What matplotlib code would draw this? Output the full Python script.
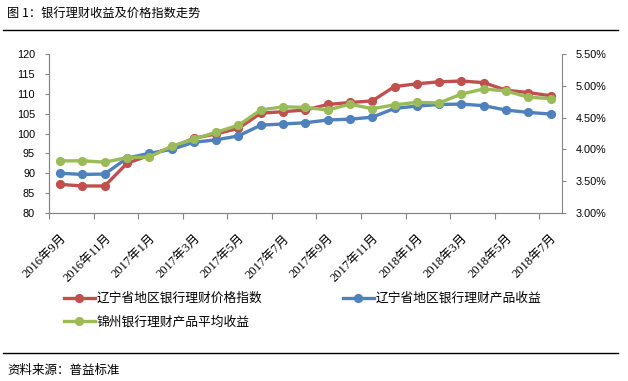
import numpy as np
import matplotlib
matplotlib.use('Agg')
import matplotlib.pyplot as plt
from matplotlib.lines import Line2D

plt.rcParams['font.family'] = ['Liberation Sans', 'Noto Sans CJK SC']

# Data (monthly, 2016-09 .. 2018-07)
tick_labels = ['2016年9月', '2016年11月', '2017年1月', '2017年3月', '2017年5月', '2017年7月',
               '2017年9月', '2017年11月', '2018年1月', '2018年3月', '2018年5月', '2018年7月']
price_index = [87.2, 86.8, 86.8, 92.5, 94.5, 96.5, 98.8, 99.9, 101.3, 105.1, 105.5, 105.9,
               107.3, 107.8, 108.2, 111.8, 112.5, 113.0, 113.2, 112.8, 110.9, 110.3, 109.5]
ln_yield = [90.0, 89.7, 89.8, 93.8, 95.0, 96.0, 97.8, 98.4, 99.4, 102.1, 102.4, 102.7,
            103.4, 103.6, 104.1, 106.3, 106.9, 107.3, 107.4, 107.0, 105.9, 105.3, 104.9]
jz_yield = [3.82, 3.82, 3.80, 3.87, 3.88, 4.05, 4.16, 4.27, 4.38, 4.62, 4.67, 4.66,
            4.62, 4.71, 4.64, 4.70, 4.74, 4.73, 4.87, 4.95, 4.92, 4.82, 4.80]
names = ['辽宁省地区银行理财价格指数', '辽宁省地区银行理财产品收益', '锦州银行理财产品平均收益']
colors = ['#C0504D', '#4F81BD', '#9BBB59']

x = np.arange(len(price_index))
cjk = ['Noto Sans CJK SC', 'DejaVu Sans']
axis_grey = '#868686'

fig = plt.figure(figsize=(6.28, 3.81), dpi=100)
ax = fig.add_axes([49 / 628, 1 - 213 / 381, (561.7 - 49) / 628, 159 / 381])
ax2 = ax.twinx()

style = dict(lw=2.4, marker='o', ms=5.6, solid_capstyle='round')
ax.plot(x, price_index, color=colors[0], **style)
ax.plot(x, ln_yield, color=colors[1], **style)
ax2.plot(x, jz_yield, color=colors[2], **style)

ax.set_xlim(-0.5, len(x) - 0.5)
ax.set_ylim(80, 120)
ax.set_yticks(np.arange(80, 121, 5))
ax2.set_ylim(3.0, 5.5)
ax2.set_yticks(np.arange(3.0, 5.51, 0.5))
ax2.set_yticklabels(['%.2f%%' % v for v in np.arange(3.0, 5.51, 0.5)])

ax.set_xticks(x[::2])
ax.set_xticklabels(tick_labels, rotation=45, ha='right', va='top', rotation_mode='anchor',
                   family=['Liberation Serif', 'Noto Sans CJK SC'], fontsize=9)
ax.set_xticks(np.arange(-0.5, len(x) - 1, 2), minor=True)
ax.tick_params(axis='x', which='major', length=0, pad=14)
ax.tick_params(axis='x', which='minor', length=4, width=0.8, color=axis_grey, direction='out')
ax.tick_params(axis='y', length=3, width=0.8, color=axis_grey, labelsize=7.8, pad=7)
ax2.tick_params(axis='y', length=3, width=0.8, color=axis_grey, labelsize=7.8, pad=7)

for a in (ax, ax2):
    a.spines['top'].set_visible(False)
    for s in ('left', 'right', 'bottom'):
        a.spines[s].set_color(axis_grey)
        a.spines[s].set_linewidth(0.8)
ax.spines['right'].set_visible(False)

# Legend
handles = [Line2D([], [], color=c, lw=2.4, marker='o', ms=5.6) for c in colors]
fig.legend([handles[0], handles[2], handles[1]], [names[0], names[2], names[1]],
           ncol=2, loc='upper left', bbox_to_anchor=(64 / 628, 1 - 292 / 381),
           frameon=False, borderpad=0, borderaxespad=0, handlelength=2.4,
           handletextpad=0.15, columnspacing=6.3, labelspacing=0.8,
           prop={'family': cjk, 'size': 9.2})

# Title, rules and source note
fig.text(7 / 628, 1 - 13.5 / 381, '图 1：银行理财收益及价格指数走势', family=cjk, fontsize=8.8, va='center')
fig.add_artist(Line2D([3 / 628, 618 / 628], [1 - 29.5 / 381] * 2, color='black', lw=1))
fig.add_artist(Line2D([3 / 628, 618 / 628], [1 - 352.5 / 381] * 2, color='black', lw=1))
fig.text(7 / 628, 1 - 370 / 381, '资料来源：普益标准', family=cjk, fontsize=9, va='center')

fig.savefig('out.png', dpi=100)
